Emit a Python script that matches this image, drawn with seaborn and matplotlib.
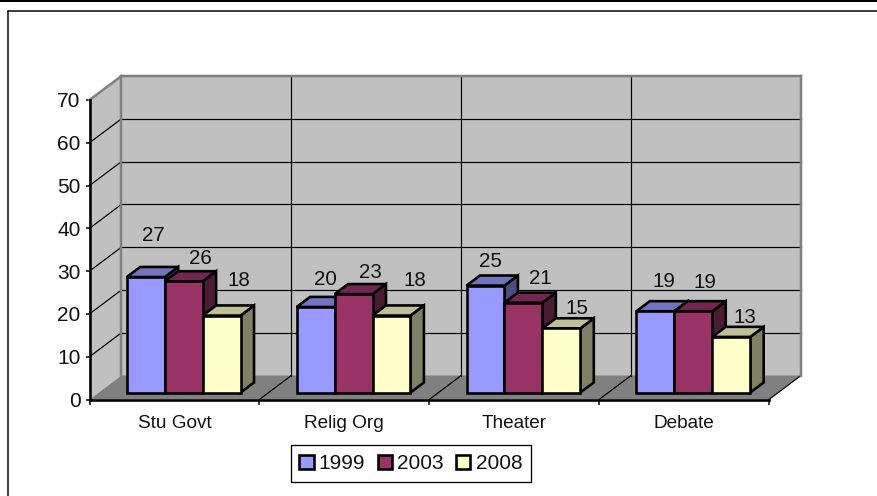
import matplotlib
matplotlib.use("Agg")
import matplotlib.pyplot as plt
from matplotlib.lines import Line2D
from matplotlib.patches import Polygon, Patch
import pandas as pd
import seaborn as sns

# ---- data ----
categories = ["Stu Govt", "Relig Org", "Theater", "Debate"]
years = ["1999", "2003", "2008"]
values_1999 = [27, 20, 25, 19]
values_2003 = [26, 23, 21, 19]
values_2008 = [18, 18, 15, 13]
y_ticks = [0, 10, 20, 30, 40, 50, 60, 70]

# ---- styles ----
front_colors = ["#9999FF", "#993366", "#FFFFCC"]
top_colors = ["#7373BF", "#732650", "#BFBF99"]
side_colors = ["#4D4D80", "#4D1A33", "#808066"]
# data-label offsets from each bar's top centre, in pixels (per year, per category)
label_offsets = {
    "1999": [(8, 42), (10, 27), (5, 24), (9, 30)],
    "2003": [(17, 23), (17, 22), (17, 24), (12, 29)],
    "2008": [(17, 35), (23, 35), (16, 20), (14, 19)],
}

W, H = 877, 496
PX = 0.72  # points per pixel at dpi 100
EDGE = 2.6
sns.set_theme(style="white")
plt.rcParams["font.family"] = ["Liberation Sans", "DejaVu Sans"]

fig = plt.figure(figsize=(W / 100, H / 100), dpi=100, facecolor="white")
ax = fig.add_axes([89.5 / W, (H - 399.5) / H, 679.5 / W, 299.5 / H])
ax.patch.set_visible(False)

df = pd.DataFrame({
    "category": categories * 3,
    "year": [y for y in years for _ in categories],
    "value": values_1999 + values_2003 + values_2008,
})
sns.barplot(data=df, x="category", y="value", hue="year", palette=front_colors,
            saturation=1, width=0.67, gap=0, legend=False, ax=ax, errorbar=None,
            edgecolor="black", linewidth=EDGE * PX)
ax.set_xlim(-0.5, 3.5)
ax.set_ylim(0, 70)
ax.autoscale(False)
ax.set_xlabel("")
ax.set_ylabel("")

# oblique projection of the 3-D box: full depth in data units
DX = 32 / 170
DY = 24 / (299.5 / 70)
BAR_D0, BAR_D = 0.29, 0.42


def wall(pts, color, z=0.5):
    ax.add_patch(Polygon(pts, closed=True, facecolor=color, edgecolor="none",
                         clip_on=False, zorder=z))


def line(xs, ys, color="black", lw=1.0, z=1):
    ax.add_line(Line2D(xs, ys, color=color, lw=lw * PX, clip_on=False, zorder=z,
                       solid_capstyle="projecting"))


x0, x1 = -0.5, 3.5
top = y_ticks[-1]
wall([(x0, 0), (x0 + DX, DY), (x0 + DX, top + DY), (x0, top)], "#C0C0C0")
wall([(x0 + DX, DY), (x1 + DX, DY), (x1 + DX, top + DY), (x0 + DX, top + DY)], "#C0C0C0")
wall([(x0, 0), (x1, 0), (x1 + DX, DY), (x0 + DX, DY)], "#808080", 0.6)

for t in y_ticks[1:-1]:
    line([x0, x0 + DX], [t, t + DY], lw=1.2)
    line([x0 + DX, x1 + DX], [t + DY, t + DY], lw=1.2)
for b in [x0 + 1, x0 + 2, x0 + 3]:
    line([b + DX, b + DX], [DY, top + DY], lw=1.2)
    line([b, b + DX], [0, DY], lw=1.2)
line([x1, x1 + DX], [0, DY], lw=1.2)

grey = "#808080"
line([x0 + DX, x0 + DX], [DY, top + DY], grey, 2.5, 1.2)
line([x0 + DX, x1 + DX], [top + DY, top + DY], grey, 2.5, 1.2)
line([x1 + DX, x1 + DX], [DY, top + DY], grey, 2.5, 1.2)
line([x0, x0 + DX], [top, top + DY], grey, 2.5, 1.2)

# give the seaborn bars their depth: shift onto the floor, add side and top faces
for h, container in enumerate(ax.containers):
    for c, bar in enumerate(container):
        v = bar.get_height()
        xl = bar.get_x() + BAR_D0 * DX
        w = bar.get_width()
        yb = BAR_D0 * DY
        bar.set_x(xl)
        bar.set_y(yb)
        bar.set_clip_on(False)
        z = 3 + c * 3 + h * 0.3
        bar.set_zorder(z + 0.2)
        bar.set_joinstyle("miter")
        ddx, ddy = BAR_D * DX, BAR_D * DY
        ytop = yb + v
        for pts, col, dz in [
            ([(xl + w, yb), (xl + w + ddx, yb + ddy), (xl + w + ddx, ytop + ddy), (xl + w, ytop)],
             side_colors[h], 0.0),
            ([(xl, ytop), (xl + ddx, ytop + ddy), (xl + w + ddx, ytop + ddy), (xl + w, ytop)],
             top_colors[h], 0.1),
        ]:
            ax.add_patch(Polygon(pts, closed=True, facecolor=col, edgecolor="black",
                                 lw=EDGE * PX, clip_on=False, zorder=z + dz, joinstyle="miter"))
        dx_px, dy_px = label_offsets[years[h]][c]
        ax.annotate(str(int(v)), (xl + w / 2, ytop), xytext=(dx_px, dy_px),
                    textcoords="offset pixels", ha="center", va="center",
                    fontsize=14.8, color="#111111", zorder=20, annotation_clip=False)

# axes
for s in ["top", "right"]:
    ax.spines[s].set_visible(False)
for s in ["left", "bottom"]:
    ax.spines[s].set_color("black")
    ax.spines[s].set_linewidth(2.6 * PX)
    ax.spines[s].set_zorder(2)
ax.set_yticks(y_ticks)
ax.tick_params(axis="y", which="major", left=True, length=4 * PX, width=1.5 * PX,
               pad=5 * PX, labelsize=15, labelcolor="#111111", color="black")
ax.set_xticks([x0, x0 + 1, x0 + 2, x0 + 3, x1])
ax.set_xticklabels([])
ax.set_xticks(range(len(categories)), minor=True)
ax.set_xticklabels(categories, minor=True)
ax.tick_params(axis="x", which="major", bottom=True, length=5 * PX, width=1.5 * PX, color="black")
ax.tick_params(axis="x", which="minor", bottom=False, length=0, pad=15 * PX,
               labelsize=13.7, labelcolor="#111111")

# legend
handles = [Patch(facecolor=c, edgecolor="black", lw=2.6 * PX, label=y)
           for c, y in zip(front_colors, years)]
leg = fig.legend(handles=handles, loc="center", bbox_to_anchor=(410.8 / W, (H - 463.7) / H),
                 ncol=3, frameon=True, fancybox=False, edgecolor="black", facecolor="white",
                 framealpha=1, fontsize=15, handlelength=0.68, handleheight=0.68,
                 handletextpad=0.25, columnspacing=0.6, borderpad=0.42, borderaxespad=0)
leg.get_frame().set_linewidth(1.3 * PX)
for t in leg.get_texts():
    t.set_color("#111111")

# page furniture: top band and chart frame
ty = lambda y: (H - y) / H
tx = lambda x: x / W
fig.add_artist(Line2D([0, 1], [ty(0.8), ty(0.8)], color="black", lw=2 * PX))
fig.add_artist(Line2D([tx(7.7), 1], [ty(10.7), ty(10.7)], color="black", lw=1.5 * PX))
fig.add_artist(Line2D([tx(7.7), tx(7.7)], [ty(10.7), 0], color="black", lw=1.5 * PX))

fig.savefig("out.png", dpi=100, facecolor="white")
